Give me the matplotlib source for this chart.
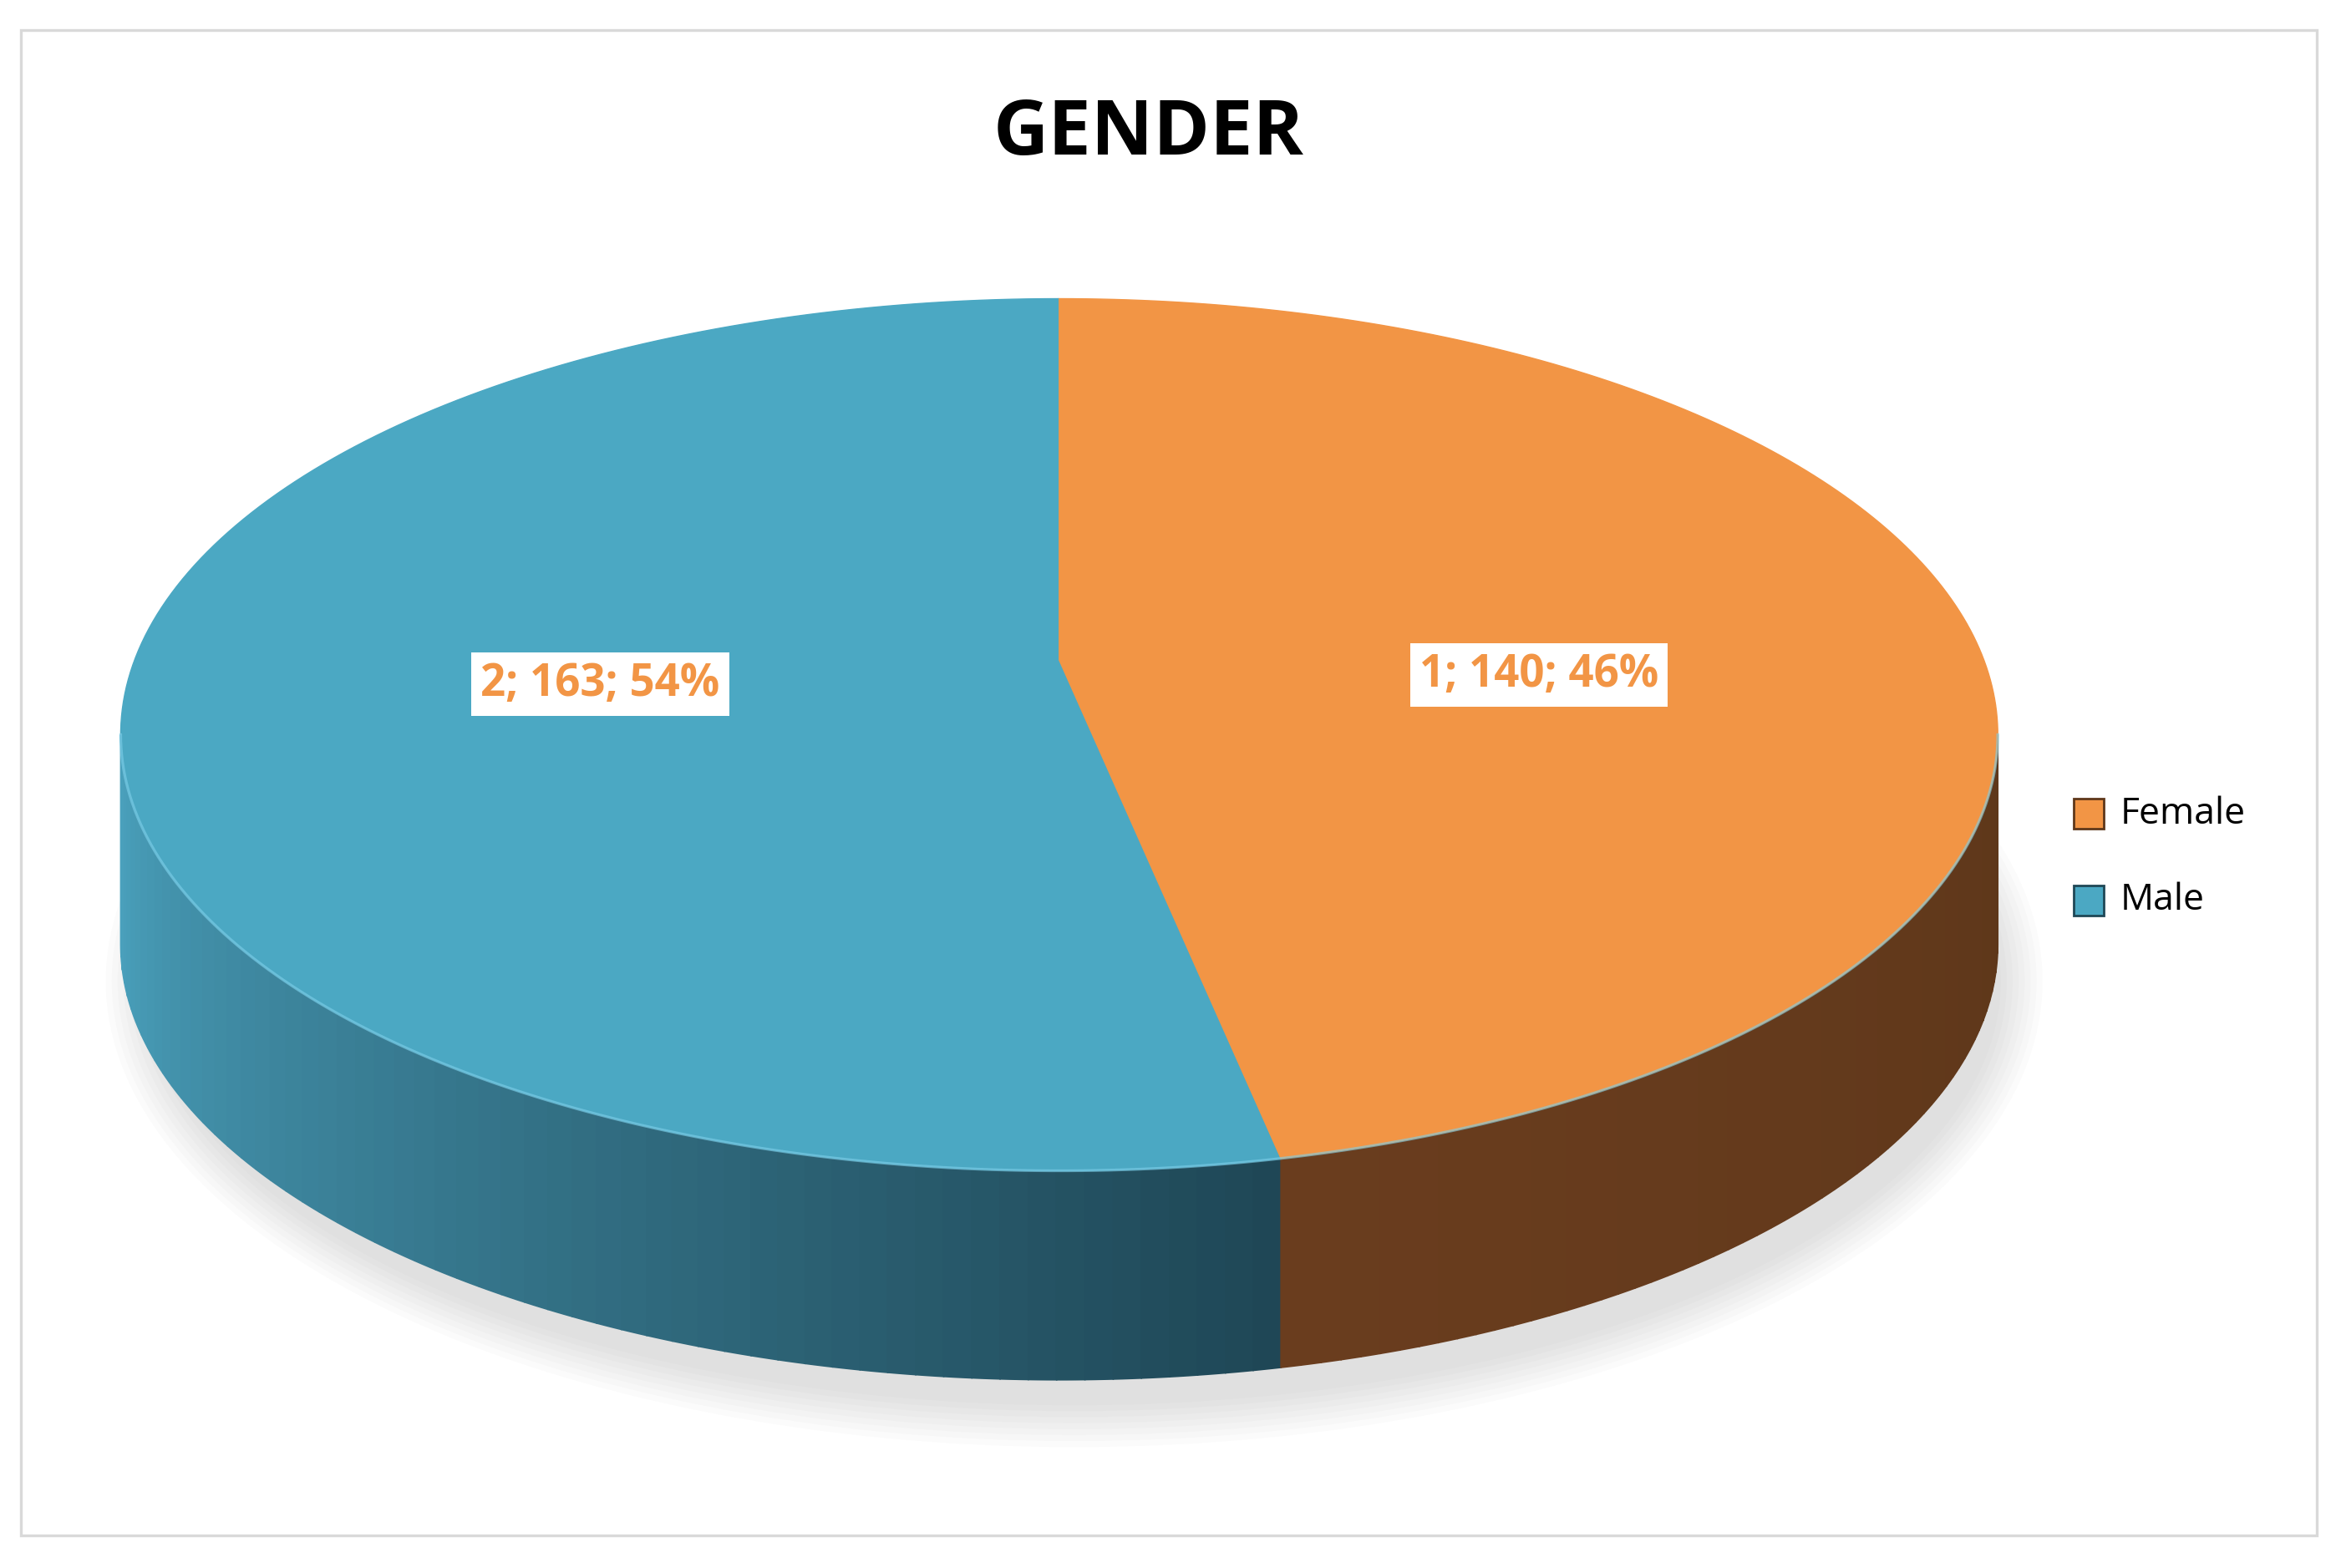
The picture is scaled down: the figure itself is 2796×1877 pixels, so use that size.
import numpy as np
import matplotlib
matplotlib.use("Agg")
import matplotlib.pyplot as plt
from matplotlib.patches import Polygon, Rectangle, Ellipse
from matplotlib.colors import to_rgb

labels = ["Female", "Male"]
codes = [1, 2]
values = [140, 163]
percents = ["46%", "54%"]
top_colors = ["#F29545", "#4BA8C3"]
side_left = ["#6A3D1E", "#4BA3BF"]
side_right = ["#5E371A", "#1F4756"]

W, H = 1568, 1050
fig = plt.figure(figsize=(13.98, 9.385), dpi=200)
ax = fig.add_axes([0, 0, 1, 1])
ax.set_xlim(0, W); ax.set_ylim(H, 0); ax.axis("off")
ax.add_patch(Rectangle((14, 20), 1541, 1008, fill=False, ec="#D9D9D9", lw=1.2))

cx, cy, rx, ry, depth = 711, 492, 630, 292, 140

def pt(t, dy=0):
    t = np.radians(t)
    return cx + rx*np.cos(t), cy - ry*np.sin(t) + dy

# shadow
for i in range(8):
    ax.add_patch(Ellipse((cx+10, cy+depth+25), 2*rx+40-i*8, 2*ry+40-i*8,
                         color="#999999", alpha=0.04, lw=0))

total = sum(values)
# male from 90 ccw, female after
starts = {}
a = 90.0
order = [1, 0]
for i in order:
    span = 360*values[i]/total
    starts[i] = (a, a+span)
    a += span

# sides
for i in order:
    a0, a1 = starts[i]
    for lo, hi in [(a0, a1), (a0-360, a1-360)]:
        s, e = max(lo, 180), min(hi, 360)
        if e <= s: continue
        n = 60
        ts = np.linspace(s, e, n+1)
        c0, c1 = np.array(to_rgb(side_left[i])), np.array(to_rgb(side_right[i]))
        for k in range(n):
            tt = np.linspace(ts[k], ts[k+1], 4)
            top = [pt(t) for t in tt]
            bot = [pt(t, depth) for t in tt[::-1]]
            f = k/(n-1)
            col = c0*(1-f)+c1*f
            ax.add_patch(Polygon(top+bot, closed=True, fc=col, ec=col, lw=0.6))

# tops
for i in order:
    a0, a1 = starts[i]
    tt = np.linspace(a0, a1, 200)
    ax.add_patch(Polygon([(cx, cy-50)] + [pt(t) for t in tt], closed=True,
                         fc=top_colors[i], ec=top_colors[i], lw=0.5))
# fix: vertical line from top center to center handled via pie apex
tt = np.linspace(180, 360, 200)
ax.plot([pt(t)[0] for t in tt], [pt(t)[1] for t in tt], color="#7FD0EA", lw=1.2, alpha=0.6)

label_pos = {0: (1033, 452), 1: (403, 458)}
for i in order:
    ax.text(*label_pos[i], f"{codes[i]}; {values[i]}; {percents[i]}", color="#F29545",
            fontsize=19, fontweight="bold", ha="center", va="center", family="Open Sans",
            bbox=dict(fc="white", ec="none", pad=4))

ax.text(771, 90, "GENDER", fontsize=33, fontweight="bold", ha="center", va="center",
        family="Open Sans", color="black")

for k, i in enumerate([0, 1]):
    y = 545 + 58*k
    ax.add_patch(Rectangle((1392, y-10), 20, 20, fc=top_colors[i], ec=side_right[i], lw=1))
    ax.text(1423, y, labels[i], fontsize=16, va="center", ha="left", family="Open Sans")

fig.savefig("out.png", dpi=200)
